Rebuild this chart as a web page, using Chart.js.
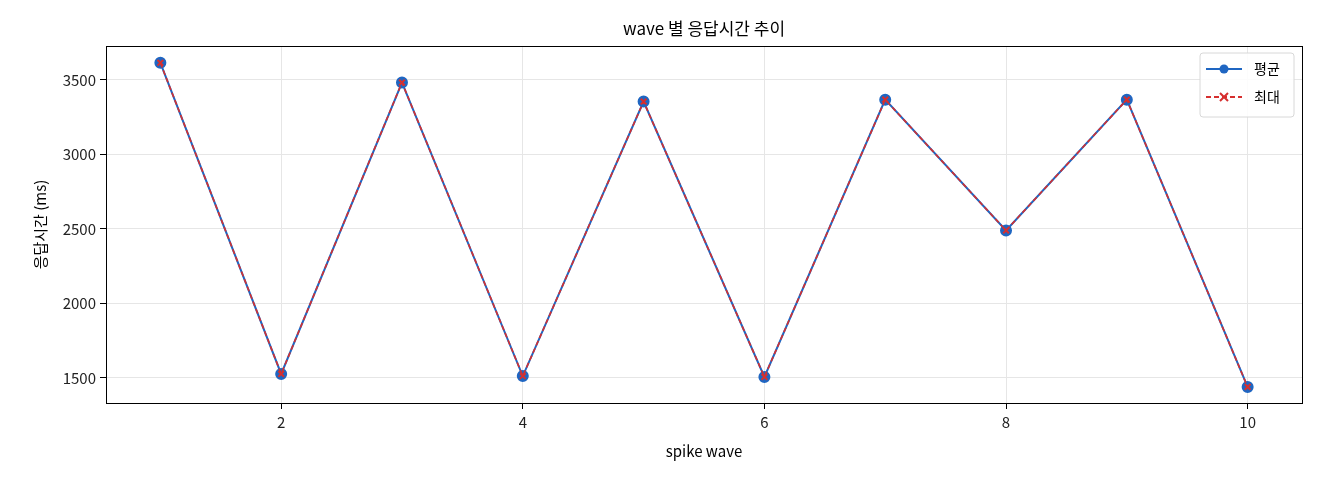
<!DOCTYPE html>
<html><head><meta charset="utf-8">
<script src="https://cdn.jsdelivr.net/npm/chart.js@4.4.0/dist/chart.umd.min.js"></script>
<style>html,body{margin:0;padding:0;background:#fff}#w{width:1320px;height:480px}</style>
</head><body><div id="w"><canvas id="c"></canvas></div>
<script>
const waves = [1,2,3,4,5,6,7,8,9,10];
const avgMs = [3615,1527,3483,1513,3355,1507,3368,2490,3368,1440];
const maxMs = [3615,1527,3483,1513,3355,1507,3368,2490,3368,1440];
const yTicks = [1500,2000,2500,3000,3500];
const xTicks = [2,4,6,8,10];
const F = "'Noto Sans CJK KR','Noto Sans',sans-serif";
const C_AVG = '#1f66c2', C_MAX = '#d62f2f';

const overlay = {
  id:'overlay',
  afterDraw(ch){
    const c = ch.ctx, a = ch.chartArea;
    c.save();
    c.strokeStyle='#000'; c.lineWidth=1;
    c.strokeRect(a.left+0.5,a.top+0.5,a.right-a.left,a.bottom-a.top);
    c.fillStyle='#000'; c.font="17px "+F; c.textAlign='center'; c.textBaseline='middle';
    c.fillText('wave 별 응답시간 추이',(a.left+a.right)/2,29);
    c.font="15px "+F;
    c.fillText('spike wave',(a.left+a.right)/2,451);
    c.translate(40,(a.top+a.bottom)/2); c.rotate(-Math.PI/2);
    c.fillText('응답시간 (ms)',0,0);
    c.setTransform(ch.currentDevicePixelRatio,0,0,ch.currentDevicePixelRatio,0,0);
    // legend
    const lx=1200, ly=53, lw=94, lh=64;
    c.fillStyle='rgba(255,255,255,0.85)'; c.strokeStyle='#d8d8d8'; c.lineWidth=1;
    c.beginPath(); c.roundRect(lx,ly,lw,lh,3); c.fill(); c.stroke();
    c.lineWidth=2;
    c.strokeStyle=C_AVG; c.beginPath(); c.moveTo(lx+6,ly+16); c.lineTo(lx+42,ly+16); c.stroke();
    c.fillStyle=C_AVG; c.beginPath(); c.arc(lx+24,ly+16,4.5,0,Math.PI*2); c.fill();
    c.strokeStyle=C_MAX; c.setLineDash([5,3]); c.beginPath(); c.moveTo(lx+6,ly+44); c.lineTo(lx+42,ly+44); c.stroke();
    c.setLineDash([]); c.beginPath(); c.moveTo(lx+20,ly+40); c.lineTo(lx+28,ly+48); c.moveTo(lx+28,ly+40); c.lineTo(lx+20,ly+48); c.stroke();
    c.fillStyle='#000'; c.font="14px "+F; c.textAlign='left';
    c.fillText('평균',lx+54,ly+16); c.fillText('최대',lx+54,ly+44);
    c.restore();
  }
};

new Chart(document.getElementById('c'),{
  type:'line',
  data:{datasets:[
    {label:'평균',order:2,data:waves.map((x,i)=>({x,y:avgMs[i]})),borderColor:C_AVG,backgroundColor:C_AVG,borderWidth:2,pointRadius:5,pointStyle:'circle',tension:0},
    {label:'최대',order:1,data:waves.map((x,i)=>({x,y:maxMs[i]})),borderColor:C_MAX,backgroundColor:C_MAX,borderWidth:1.6,borderDash:[5,3],pointRadius:4,pointStyle:'crossRot',pointBorderWidth:2,tension:0}
  ]},
  options:{
    responsive:true,maintainAspectRatio:false,animation:false,
    layout:{padding:{top:46,right:18,left:0,bottom:0}},
    plugins:{legend:{display:false},title:{display:false},tooltip:{enabled:false}},
    scales:{
      x:{type:'linear',min:0.55,max:10.45,
        afterFit(s){s.height=77;},
        afterBuildTicks(s){s.ticks=xTicks.map(v=>({value:v}));},
        grid:{color:'#e6e6e6',tickLength:6,tickColor:'#000'},border:{display:false},
        ticks:{color:'#222',font:{family:F,size:15},padding:4,callback:v=>String(v)}},
      y:{min:1332,max:3728,
        afterFit(s){s.width=106;},
        afterBuildTicks(s){s.ticks=yTicks.map(v=>({value:v}));},
        grid:{color:'#e6e6e6',tickLength:6,tickColor:'#000'},border:{display:false},
        ticks:{color:'#222',font:{family:F,size:15},padding:4,callback:v=>String(v)}}
    }
  },
  plugins:[overlay]
});
</script></body></html>
